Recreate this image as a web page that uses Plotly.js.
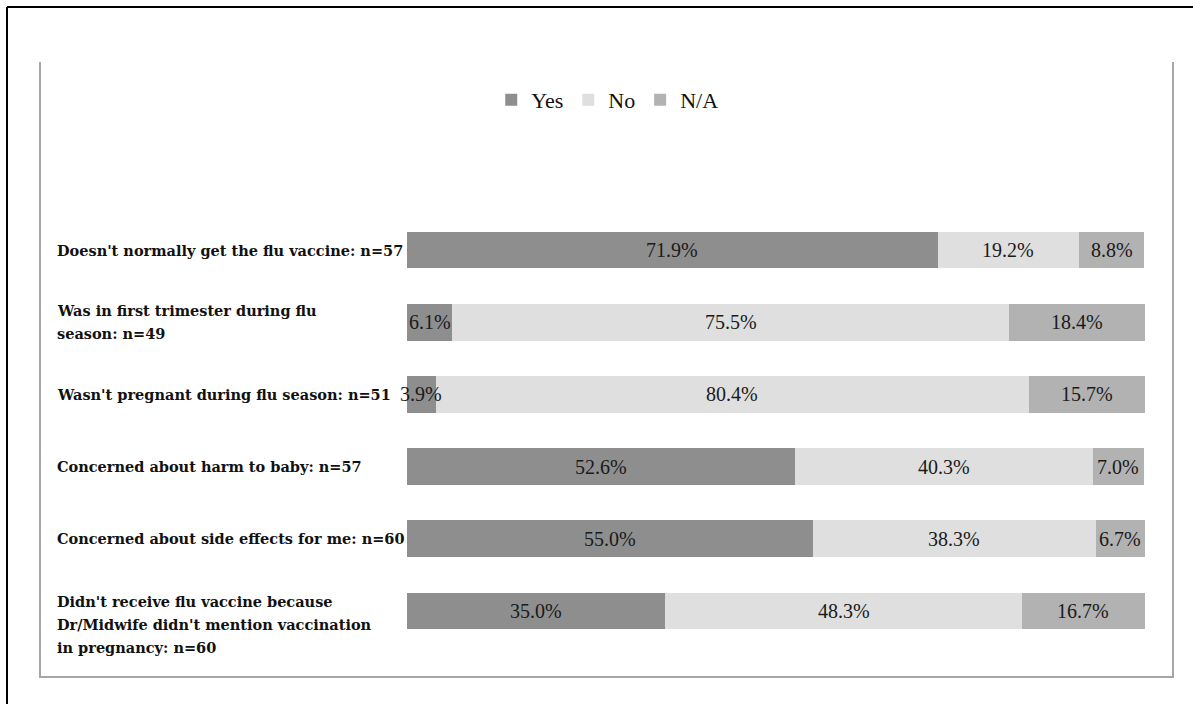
<!DOCTYPE html>
<html>
<head>
<meta charset="utf-8">
<script src="https://cdn.plot.ly/plotly-3.0.1.min.js"></script>
<style>
html, body { margin: 0; padding: 0; background: #fff; }
#chart { width: 1193px; height: 704px; }
</style>
</head>
<body>
<div id="chart"></div>
<script>
const categories = [
  "Doesn't normally get the flu vaccine: n=57",
  "Was in first trimester during flu<br>season: n=49",
  "Wasn't pregnant during flu season: n=51",
  "Concerned about harm to baby: n=57",
  "Concerned about side effects for me: n=60",
  "Didn't receive flu vaccine because<br>Dr/Midwife didn't mention vaccination<br>in pregnancy: n=60"
];
const yesValues = [71.9, 6.1, 3.9, 52.6, 55.0, 35.0];
const noValues  = [19.2, 75.5, 80.4, 40.3, 38.3, 48.3];
const naValues  = [8.8, 18.4, 15.7, 7.0, 6.7, 16.7];
const seriesNames = ["Yes", "No", "N/A"];

const serif = "Liberation Serif, serif";
const labelFont = "DejaVu Serif, serif";
const colors = ["#8e8e8e", "#dfdfdf", "#b2b2b2"];
const allValues = [yesValues, noValues, naValues];

const traces = allValues.map((vals, i) => ({
  type: "bar",
  orientation: "h",
  name: seriesNames[i],
  y: categories,
  x: vals,
  marker: { color: colors[i], line: { width: 0 } },
  hoverinfo: "skip"
}));

// frame geometry in paper coordinates (plot area: x 407..1145, y 214..647)
const L = 407, R = 1145, T = 214, B = 647;
const px = v => (v - L) / (R - L);
const py = v => (B - v) / (B - T);

const shapes = [
  { type: "line", xref: "paper", yref: "paper", x0: px(7), x1: px(1200), y0: py(7), y1: py(7), line: { color: "#000", width: 2 } },
  { type: "line", xref: "paper", yref: "paper", x0: px(7), x1: px(7), y0: py(7), y1: py(710), line: { color: "#000", width: 2 } },
  { type: "line", xref: "paper", yref: "paper", x0: px(40), x1: px(40), y0: py(62), y1: py(677), line: { color: "#a6a6a6", width: 2 } },
  { type: "line", xref: "paper", yref: "paper", x0: px(1173), x1: px(1173), y0: py(62), y1: py(677), line: { color: "#a6a6a6", width: 2 } },
  { type: "line", xref: "paper", yref: "paper", x0: px(39), x1: px(1174), y0: py(677), y1: py(677), line: { color: "#a6a6a6", width: 2 } }
];

const annotations = [];
// category labels, left aligned, one annotation per line
categories.forEach((c, i) => {
  const lines = c.split("<br>");
  const n = lines.length;
  const extra = n === 3 ? -14 : 0;
  lines.forEach((ln, k) => {
    annotations.push({
      xref: "paper", yref: "y",
      x: px(55), y: c,
      xanchor: "left", yanchor: "middle", align: "left",
      text: "<b>" + ln + "</b>",
      showarrow: false,
      yshift: ((n - 1) / 2 - k) * 23 + extra,
      font: { family: labelFont, size: 14.5, color: "#111" }
    });
  });
});
// data labels at segment centres
categories.forEach((c, i) => {
  let start = 0;
  allValues.forEach(vals => {
    const v = vals[i];
    annotations.push({
      xref: "x", yref: "y",
      x: start + v / 2, y: c,
      xanchor: "center", yanchor: "middle",
      text: v.toFixed(1) + "%",
      showarrow: false,
      font: { family: serif, size: 20, color: "#1a1a1a" }
    });
    start += v;
  });
});

const layout = {
  width: 1193, height: 704,
  margin: { l: L, r: 1193 - R, t: T, b: 704 - B, pad: 0 },
  paper_bgcolor: "#fff", plot_bgcolor: "#fff",
  barmode: "stack",
  bargap: 0.49,
  showlegend: true,
  legend: {
    orientation: "h",
    xref: "container", yref: "container",
    x: 0.509, xanchor: "center",
    y: 1 - 100 / 704, yanchor: "middle",
    font: { family: serif, size: 22, color: "#111" },
    itemwidth: 30,
    traceorder: "normal"
  },
  xaxis: { range: [0, 100], visible: false, fixedrange: true },
  yaxis: { autorange: "reversed", showticklabels: false, showgrid: false, zeroline: false, showline: false, ticks: "", fixedrange: true },
  shapes: shapes,
  annotations: annotations
};

Plotly.newPlot("chart", traces, layout, { displayModeBar: false, staticPlot: true });
</script>
</body>
</html>
